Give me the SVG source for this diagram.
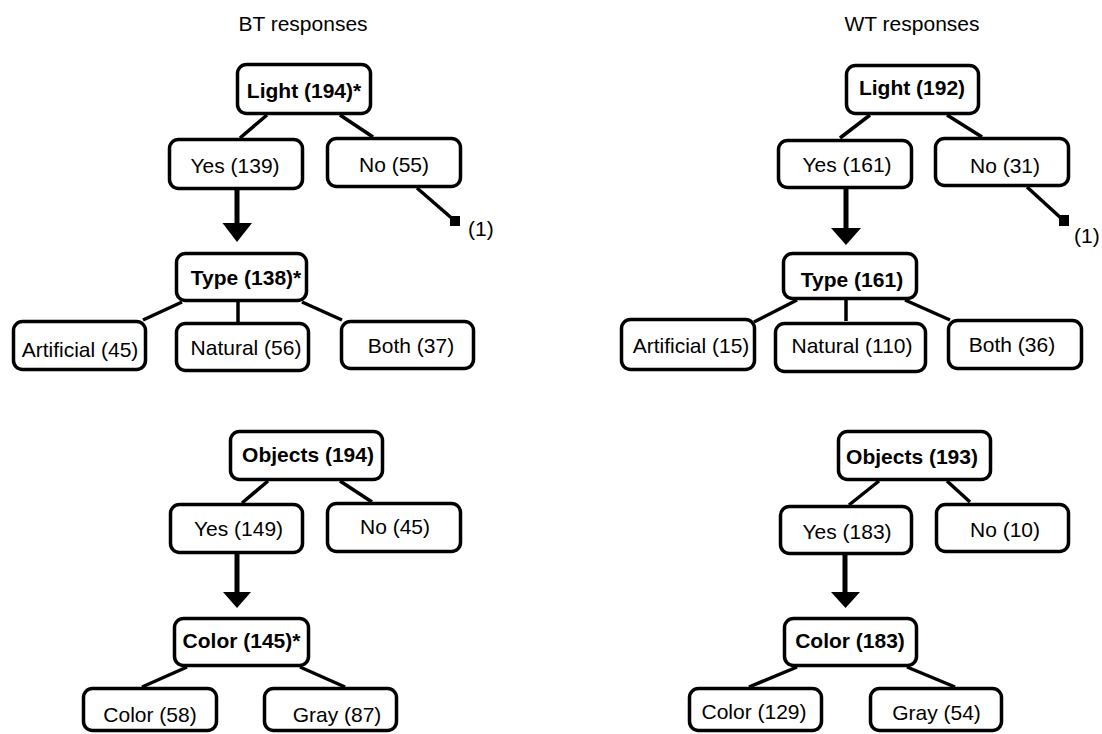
<svg xmlns="http://www.w3.org/2000/svg" width="1102" height="734" viewBox="0 0 1102 734">
<style>
.box{fill:#fff;stroke:#000;stroke-width:3.5}
.t{font-family:"Liberation Sans",Arial,sans-serif;font-size:21px;fill:#000;text-anchor:middle}
.b{font-weight:bold}
.s{text-anchor:start}
.ln{stroke:#000;stroke-width:3.5;fill:none}
.sh{stroke:#000;stroke-width:5;fill:none}
.ah{fill:#000}
</style>
<rect width="1102" height="734" fill="#fff"/>
<text class="t" x="303" y="31">BT responses</text>
<text class="t" x="912" y="31">WT responses</text>
<g id="connectors">
<line class="ln" x1="267" y1="115" x2="240" y2="138"/>
<line class="ln" x1="340" y1="115" x2="373" y2="137"/>
<line class="sh" x1="237" y1="190" x2="237" y2="225"/>
<polygon class="ah" points="222.5,223 252,223 237,242"/>
<line class="ln" x1="417" y1="188" x2="455" y2="221"/>
<rect class="ah" x="450" y="216" width="10" height="10"/>
<line class="ln" x1="182" y1="302" x2="143" y2="320"/>
<line class="ln" x1="238" y1="302" x2="238" y2="322"/>
<line class="ln" x1="302" y1="302" x2="342" y2="320"/>
<line class="ln" x1="870" y1="115" x2="840" y2="138"/>
<line class="ln" x1="947" y1="115" x2="982" y2="137"/>
<line class="sh" x1="846" y1="189" x2="846" y2="230"/>
<polygon class="ah" points="831,228 861,228 846,245"/>
<line class="ln" x1="1027" y1="187" x2="1062" y2="219"/>
<rect class="ah" x="1059" y="215" width="10" height="11"/>
<line class="ln" x1="797" y1="300" x2="754" y2="322"/>
<line class="ln" x1="846" y1="300" x2="846" y2="321"/>
<line class="ln" x1="905" y1="300" x2="950" y2="320"/>
<line class="ln" x1="268" y1="481" x2="242" y2="503"/>
<line class="ln" x1="340" y1="481" x2="372" y2="502"/>
<line class="sh" x1="237" y1="554" x2="237" y2="594"/>
<polygon class="ah" points="223,592 251,592 237,608"/>
<line class="ln" x1="187" y1="667" x2="142" y2="687"/>
<line class="ln" x1="300" y1="667" x2="345" y2="687"/>
<line class="ln" x1="879" y1="481" x2="849" y2="505"/>
<line class="ln" x1="947" y1="481" x2="970" y2="502"/>
<line class="sh" x1="845" y1="555" x2="845" y2="594"/>
<polygon class="ah" points="831,592 860,592 845.5,608"/>
<line class="ln" x1="797" y1="667" x2="749" y2="687"/>
<line class="ln" x1="907" y1="667" x2="955" y2="687"/>
</g>
<text class="t s" x="468" y="236">(1)</text>
<text class="t s" x="1074" y="243">(1)</text>
<g id="bt-light"><rect class="box" x="237.5" y="64.5" width="133" height="49" rx="9"/><text class="t b" x="304" y="98">Light (194)*</text></g>
<g id="bt-light-yes"><rect class="box" x="169.5" y="139.5" width="133" height="49" rx="9"/><text class="t" x="235" y="173">Yes (139)</text></g>
<g id="bt-light-no"><rect class="box" x="327.5" y="138.5" width="133" height="48" rx="9"/><text class="t" x="394" y="172">No (55)</text></g>
<g id="bt-type"><rect class="box" x="176.5" y="253.5" width="130" height="47" rx="9"/><text class="t b" x="246" y="285">Type (138)*</text></g>
<g id="bt-artificial"><rect class="box" x="13.5" y="321.5" width="132" height="48" rx="9"/><text class="t" x="80" y="357">Artificial (45)</text></g>
<g id="bt-natural"><rect class="box" x="176.5" y="323.5" width="132" height="47" rx="9"/><text class="t" x="246" y="355">Natural (56)</text></g>
<g id="bt-both"><rect class="box" x="341.5" y="321.5" width="132" height="47" rx="9"/><text class="t" x="411" y="353">Both (37)</text></g>
<g id="wt-light"><rect class="box" x="846.5" y="65.5" width="132" height="48" rx="9"/><text class="t b" x="912" y="95">Light (192)</text></g>
<g id="wt-light-yes"><rect class="box" x="778.5" y="140.5" width="133" height="47" rx="9"/><text class="t" x="847" y="172">Yes (161)</text></g>
<g id="wt-light-no"><rect class="box" x="935.5" y="138.5" width="133" height="47" rx="9"/><text class="t" x="1005" y="173">No (31)</text></g>
<g id="wt-type"><rect class="box" x="783.5" y="253.5" width="133" height="45" rx="9"/><text class="t b" x="852" y="287">Type (161)</text></g>
<g id="wt-artificial"><rect class="box" x="621.5" y="319.5" width="133" height="50" rx="9"/><text class="t" x="691" y="353">Artificial (15)</text></g>
<g id="wt-natural"><rect class="box" x="775.5" y="323.5" width="150" height="48" rx="9"/><text class="t" x="852" y="353">Natural (110)</text></g>
<g id="wt-both"><rect class="box" x="948.5" y="320.5" width="133" height="48" rx="9"/><text class="t" x="1012" y="352">Both (36)</text></g>
<g id="bt-objects"><rect class="box" x="230.5" y="431.5" width="152" height="48" rx="9"/><text class="t b" x="308" y="462">Objects (194)</text></g>
<g id="bt-objects-yes"><rect class="box" x="170.5" y="504.5" width="132" height="48" rx="9"/><text class="t" x="238.5" y="536">Yes (149)</text></g>
<g id="bt-objects-no"><rect class="box" x="327.5" y="503.5" width="133" height="48" rx="9"/><text class="t" x="395" y="534">No (45)</text></g>
<g id="bt-color"><rect class="box" x="174.5" y="618.5" width="134" height="47" rx="9"/><text class="t b" x="241.5" y="648">Color (145)*</text></g>
<g id="bt-color-color"><rect class="box" x="83.5" y="688.5" width="133" height="42" rx="9"/><text class="t" x="150" y="722">Color (58)</text></g>
<g id="bt-color-gray"><rect class="box" x="264.5" y="688.5" width="132" height="42" rx="9"/><text class="t" x="337" y="722">Gray (87)</text></g>
<g id="wt-objects"><rect class="box" x="838.5" y="431.5" width="152" height="48" rx="9"/><text class="t b" x="912" y="464">Objects (193)</text></g>
<g id="wt-objects-yes"><rect class="box" x="780.5" y="506.5" width="131" height="47" rx="9"/><text class="t" x="847" y="539">Yes (183)</text></g>
<g id="wt-objects-no"><rect class="box" x="936.5" y="504.5" width="132" height="47" rx="9"/><text class="t" x="1005" y="537">No (10)</text></g>
<g id="wt-color"><rect class="box" x="784.5" y="618.5" width="132" height="47" rx="9"/><text class="t b" x="850" y="648">Color (183)</text></g>
<g id="wt-color-color"><rect class="box" x="689.5" y="688.5" width="132" height="42" rx="9"/><text class="t" x="754" y="719">Color (129)</text></g>
<g id="wt-color-gray"><rect class="box" x="870.5" y="688.5" width="131" height="42" rx="9"/><text class="t" x="936.5" y="720">Gray (54)</text></g>
</svg>
